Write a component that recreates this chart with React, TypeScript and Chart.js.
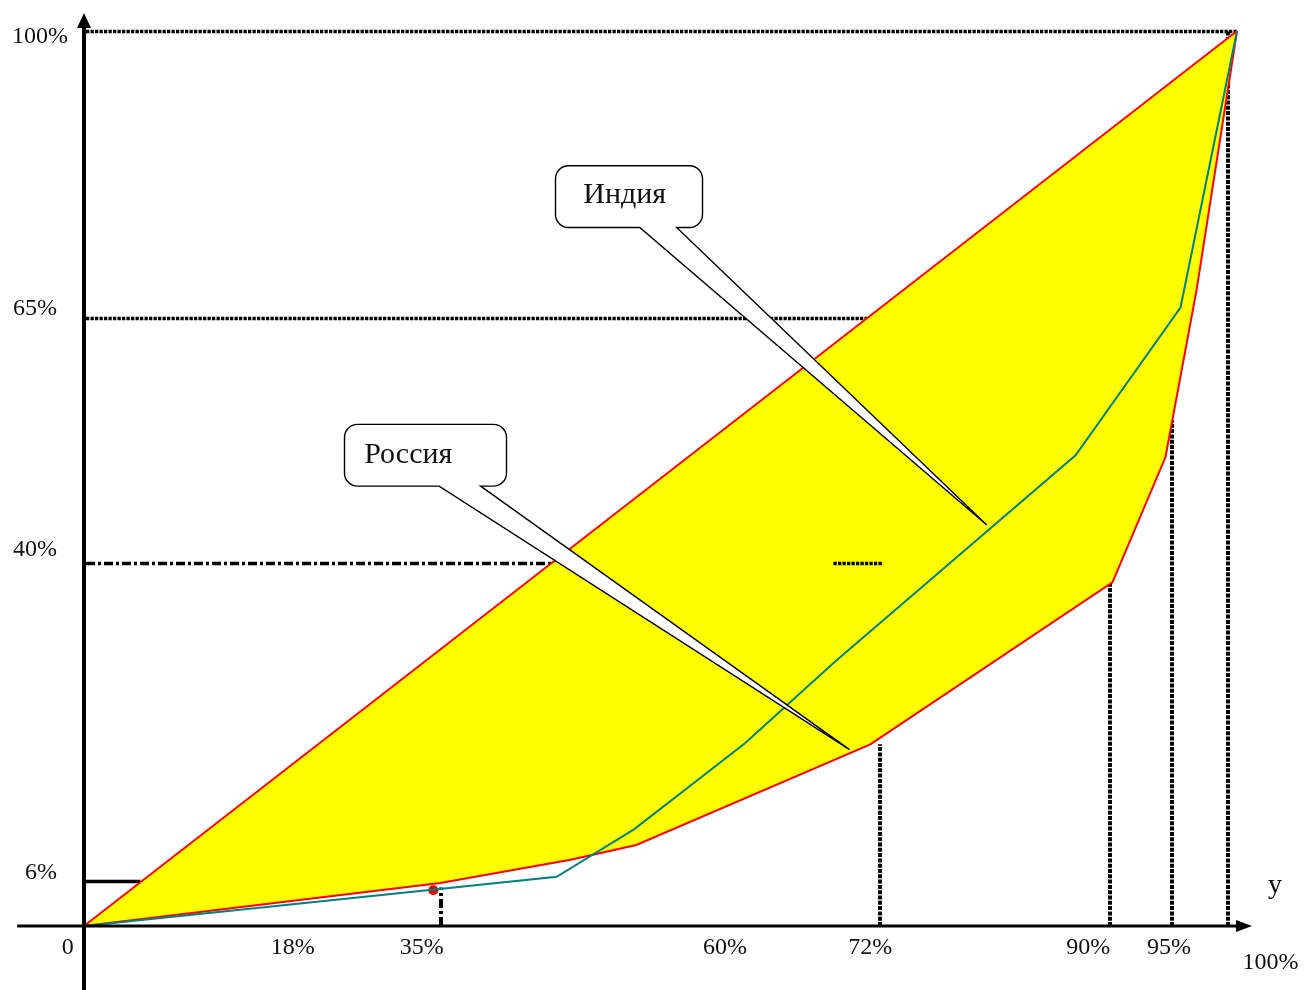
import React, { useEffect, useRef } from "react";
import { Chart, registerables } from "chart.js";

Chart.register(...registerables);

// ---- Lorenz curves: cumulative share of population (x, %) vs share of income (y, %)
const equalityX = [0, 100];
const equalityY = [0, 100];

const russiaX = [0, 30.9, 42.2, 47.9, 68.2, 89.2, 93.8, 96.5, 100];
const russiaY = [0, 4.8, 7.4, 9.05, 20.3, 38.4, 52.4, 71.1, 100];

const indiaX = [0, 41.0, 47.7, 57.3, 65.1, 86.0, 95.1, 100];
const indiaY = [0, 5.5, 10.8, 20.4, 29.5, 52.6, 69.1, 100];

const markerX = [30.3];
const markerY = [4.0];

// ---- guide lines (values)
const hGuideY = [100, 67.9, 40.6, 5.0];
const hGuideXEnd = [100, 67.9, 40.6, 4.9];
const hGuideStyle = ["dot", "dot", "dashdot", "solid"];

const extraSegX = [65.0, 69.3];
const extraSegY = [40.6];

const vGuideX = [31.0, 69.0, 89.0, 94.4, 99.2];
const vGuideYEnd = [4.3, 20.3, 38.4, 56.5, 100];
const vGuideStyle = ["dashdot", "dot", "dot", "dot", "dot"];

// ---- tick labels
const xTickLabels = ["0", "18%", "35%", "60%", "72%", "90%", "95%", "100%"];
const xTickPos = [-1.4, 18.1, 29.3, 55.6, 68.2, 87.1, 94.1, 102.9];
const xTickRow = [0, 0, 0, 0, 0, 0, 0, 1];

const yTickLabels = ["100%", "65%", "40%", "6%"];
const yTickPos = [99.4, 69.0, 42.0, 5.9];
const yTickRight = [68, 57, 57, 57];

const axisName = "у";

// ---- callouts (value coordinates)
const calloutText = ["Индия", "Россия"];
const calloutBox = [
  [40.85, 85.0, 53.6, 78.1],
  [22.55, 56.1, 36.6, 49.2],
];
const calloutBase = [
  [48.2, 51.4],
  [30.8, 34.4],
];
const calloutTip = [
  [78.3, 44.8],
  [66.4, 19.7],
];
const calloutTextPos = [
  [43.3, 80.8],
  [24.3, 51.7],
];

const SERIF = '"Liberation Serif", "Times New Roman", "DejaVu Serif", serif';

function setDash(ctx: CanvasRenderingContext2D, style: string, vertical: boolean) {
  if (style === "dot") ctx.setLineDash(vertical ? [4, 1.3] : [3.3, 1.2]);
  else if (style === "dashdot") ctx.setLineDash([9, 3, 3, 3]);
  else ctx.setLineDash([]);
}

const guidePlugin = {
  id: "guides",
  beforeDatasetsDraw(chart: any) {
    const ctx: CanvasRenderingContext2D = chart.ctx;
    const xs = chart.scales.x;
    const ys = chart.scales.y;
    ctx.save();
    ctx.strokeStyle = "#000";
    ctx.lineCap = "butt";
    // horizontal guides
    for (let i = 0; i < hGuideY.length; i++) {
      setDash(ctx, hGuideStyle[i], false);
      ctx.lineWidth = 3.3;
      const y = Math.round(ys.getPixelForValue(hGuideY[i])) + 0.5;
      ctx.beginPath();
      ctx.moveTo(xs.getPixelForValue(0) + 2, y);
      ctx.lineTo(xs.getPixelForValue(hGuideXEnd[i]), y);
      ctx.stroke();
    }
    // vertical guides
    for (let i = 0; i < vGuideX.length; i++) {
      setDash(ctx, vGuideStyle[i], true);
      ctx.lineWidth = 4;
      const x = Math.round(xs.getPixelForValue(vGuideX[i]));
      ctx.beginPath();
      ctx.moveTo(x, ys.getPixelForValue(0));
      ctx.lineTo(x, ys.getPixelForValue(vGuideYEnd[i]));
      ctx.stroke();
    }
    ctx.restore();
  },
  afterDatasetsDraw(chart: any) {
    const ctx: CanvasRenderingContext2D = chart.ctx;
    const xs = chart.scales.x;
    const ys = chart.scales.y;
    const ox = xs.getPixelForValue(0);
    const oy = ys.getPixelForValue(0);
    ctx.save();

    // extra short dotted segment (drawn over the fill)
    setDash(ctx, "dot", false);
    ctx.strokeStyle = "#000";
    ctx.lineWidth = 3.3;
    {
      const y = Math.round(ys.getPixelForValue(extraSegY[0])) + 0.5;
      ctx.beginPath();
      ctx.moveTo(xs.getPixelForValue(extraSegX[0]), y);
      ctx.lineTo(xs.getPixelForValue(extraSegX[1]), y);
      ctx.stroke();
    }

    ctx.setLineDash([]);
    ctx.fillStyle = "#000";

    // y axis
    const yTop = ys.getPixelForValue(102);
    ctx.lineWidth = 4;
    ctx.beginPath();
    ctx.moveTo(ox, chart.height);
    ctx.lineTo(ox, yTop + 10);
    ctx.stroke();
    ctx.beginPath();
    ctx.moveTo(ox, yTop);
    ctx.lineTo(ox - 7, yTop + 15);
    ctx.lineTo(ox + 7, yTop + 15);
    ctx.closePath();
    ctx.fill();

    // x axis
    const xLeft = xs.getPixelForValue(-5.8);
    const xRight = xs.getPixelForValue(101.3);
    ctx.lineWidth = 3;
    ctx.beginPath();
    ctx.moveTo(xLeft, oy);
    ctx.lineTo(xRight - 10, oy);
    ctx.stroke();
    ctx.beginPath();
    ctx.moveTo(xRight, oy);
    ctx.lineTo(xRight - 16, oy - 6);
    ctx.lineTo(xRight - 16, oy + 6);
    ctx.closePath();
    ctx.fill();

    // callouts
    for (let i = 0; i < calloutText.length; i++) {
      const [bx0, by0, bx1, by1] = calloutBox[i];
      const x0 = xs.getPixelForValue(bx0) + 0.5;
      const x1 = xs.getPixelForValue(bx1) + 0.5;
      const y0 = ys.getPixelForValue(by0) + 0.5;
      const y1 = ys.getPixelForValue(by1) + 0.5;
      const bl = xs.getPixelForValue(calloutBase[i][0]);
      const br = xs.getPixelForValue(calloutBase[i][1]);
      const tx = xs.getPixelForValue(calloutTip[i][0]);
      const ty = ys.getPixelForValue(calloutTip[i][1]);
      const r = 13;
      ctx.beginPath();
      ctx.moveTo(x0 + r, y0);
      ctx.lineTo(x1 - r, y0);
      ctx.arcTo(x1, y0, x1, y0 + r, r);
      ctx.lineTo(x1, y1 - r);
      ctx.arcTo(x1, y1, x1 - r, y1, r);
      ctx.lineTo(br, y1);
      ctx.lineTo(tx, ty);
      ctx.lineTo(bl, y1);
      ctx.lineTo(x0 + r, y1);
      ctx.arcTo(x0, y1, x0, y1 - r, r);
      ctx.lineTo(x0, y0 + r);
      ctx.arcTo(x0, y0, x0 + r, y0, r);
      ctx.closePath();
      ctx.fillStyle = "#fff";
      ctx.fill();
      ctx.lineWidth = 1.4;
      ctx.strokeStyle = "#000";
      ctx.stroke();

      ctx.fillStyle = "#111";
      ctx.font = `30px ${SERIF}`;
      ctx.textAlign = "left";
      ctx.textBaseline = "alphabetic";
      ctx.fillText(
        calloutText[i],
        xs.getPixelForValue(calloutTextPos[i][0]),
        ys.getPixelForValue(calloutTextPos[i][1])
      );
    }

    // tick labels
    ctx.fillStyle = "#111";
    ctx.font = `24px ${SERIF}`;
    ctx.textBaseline = "middle";
    ctx.textAlign = "center";
    for (let i = 0; i < xTickLabels.length; i++) {
      const y = oy + (xTickRow[i] === 0 ? 22 : 37);
      ctx.fillText(xTickLabels[i], xs.getPixelForValue(xTickPos[i]), y);
    }
    ctx.textAlign = "right";
    for (let i = 0; i < yTickLabels.length; i++) {
      ctx.fillText(yTickLabels[i], yTickRight[i], ys.getPixelForValue(yTickPos[i]));
    }
    // axis name
    ctx.textAlign = "center";
    ctx.font = `28px ${SERIF}`;
    ctx.fillText(axisName, xs.getPixelForValue(103.3), oy - 40);
    ctx.restore();
  },
};

export default function App() {
  const canvasRef = useRef<HTMLCanvasElement | null>(null);

  useEffect(() => {
    const canvas = canvasRef.current;
    if (!canvas) return;
    const toPts = (xs: number[], ys: number[]) => xs.map((x, i) => ({ x, y: ys[i] }));
    const chart = new Chart(canvas, {
      type: "line",
      data: {
        datasets: [
          {
            label: "Индия",
            data: toPts(indiaX, indiaY),
            borderColor: "#008080",
            borderWidth: 2,
            pointRadius: 0,
            fill: false,
            clip: false,
          },
          {
            label: "Равенство",
            data: toPts(equalityX, equalityY),
            borderColor: "#ff0000",
            borderWidth: 2,
            pointRadius: 0,
            fill: false,
            clip: false,
          },
          {
            label: "Россия",
            data: toPts(russiaX, russiaY),
            borderColor: "#ff0000",
            borderWidth: 2,
            pointRadius: 0,
            backgroundColor: "#ffff00",
            fill: 1,
            clip: false,
          },
          {
            label: "marker",
            data: toPts(markerX, markerY),
            showLine: false,
            pointRadius: 5,
            pointBackgroundColor: "#e00000",
            pointBorderWidth: 0,
            borderColor: "#e00000",
            clip: false,
          },
        ],
      } as any,
      options: {
        responsive: false,
        animation: false,
        events: [],
        layout: { padding: { left: 84, right: 67, top: 31, bottom: 64 } },
        elements: { line: { tension: 0 } },
        scales: {
          x: { type: "linear", min: 0, max: 100, display: false },
          y: { type: "linear", min: 0, max: 100, display: false },
        },
        plugins: {
          legend: { display: false },
          tooltip: { enabled: false },
          filler: { propagate: false },
        },
      } as any,
      plugins: [guidePlugin],
    });
    return () => chart.destroy();
  }, []);

  return (
    <div style={{ position: "absolute", left: 0, top: 0, width: 1304, height: 990, background: "#fff" }}>
      <canvas ref={canvasRef} width={1304} height={990} style={{ display: "block" }} />
    </div>
  );
}
